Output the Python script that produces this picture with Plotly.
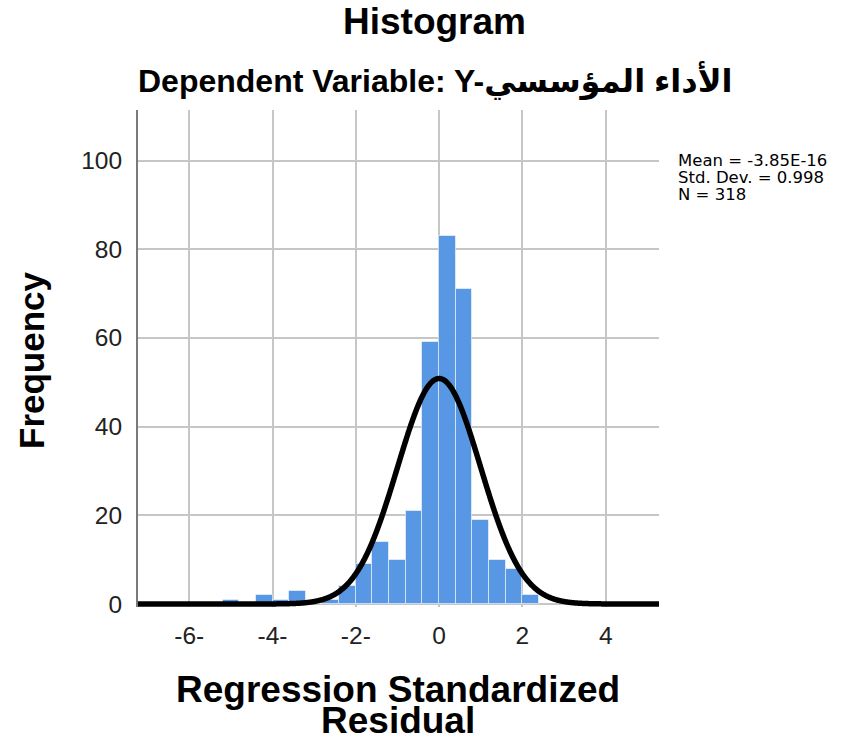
import numpy as np
import plotly.graph_objects as go

# ---- data ----
bin_centers = [-5.0, -4.6, -4.2, -3.8, -3.4, -3.0, -2.6, -2.2, -1.8, -1.4, -1.0,
               -0.6, -0.2, 0.2, 0.6, 1.0, 1.4, 1.8, 2.2]
counts = [1, 0, 2, 1, 3, 0, 1, 4, 9, 14, 10, 21, 59, 83, 71, 19, 10, 8, 2]
bin_width = 0.4

stat_mean = -3.85e-16
stat_sd = 0.998
stat_n = 318

x_tickvals = [-6, -4, -2, 0, 2, 4]
x_ticktext = ["-6-", "-4-", "-2-", "0", "2", "4"]
y_tickvals = [0, 20, 40, 60, 80, 100]

title_text = "Histogram"
subtitle_text = "Dependent Variable: Y-الأداء المؤسسي"
x_title_lines = ["Regression Standardized", "Residual"]
y_title_text = "Frequency"
stats_lines = ["Mean = -3.85E-16", "Std. Dev. = 0.998", "N = 318"]

# ---- layout geometry ----
W, H = 854, 742
L, R, T, B = 138, 195, 110, 135
x_range = [-7.23, 5.28]
y_range = [-0.68, 111.4]


def px(xp):
    return (xp - L) / (W - L - R)


def py(yp):
    return (H - B - yp) / (H - T - B)


FONT = "Liberation Sans, Arial, DejaVu Sans, sans-serif"
STAT_FONT = "DejaVu Sans, Liberation Sans, sans-serif"

# normal curve from the reported statistics
xc = np.linspace(x_range[0], x_range[1], 800)
scale = stat_n * bin_width / (stat_sd * np.sqrt(2 * np.pi))
yc = scale * np.exp(-0.5 * ((xc - stat_mean) / stat_sd) ** 2)

fig = go.Figure()
fig.add_trace(go.Bar(
    x=bin_centers, y=counts, width=bin_width,
    marker=dict(color="#5797e4", line=dict(color="rgba(255,255,255,0.55)", width=1)),
    showlegend=False, hoverinfo="skip",
))
fig.add_trace(go.Scatter(
    x=xc, y=yc, mode="lines",
    line=dict(color="black", width=5.5, shape="spline", smoothing=0.6),
    showlegend=False, hoverinfo="skip",
))

annotations = [
    dict(text=f"<b>{title_text}</b>", x=px(434), y=py(22), xref="paper", yref="paper",
         xanchor="center", yanchor="middle", showarrow=False,
         font=dict(family=FONT, size=37, color="black")),
    dict(text=f"<b>{subtitle_text}</b>", x=px(435), y=py(80), xref="paper", yref="paper",
         xanchor="center", yanchor="middle", showarrow=False,
         font=dict(family=FONT, size=32, color="black")),
    dict(text=f"<b>{x_title_lines[0]}</b>", x=px(398), y=py(689), xref="paper", yref="paper",
         xanchor="center", yanchor="middle", showarrow=False,
         font=dict(family=FONT, size=37, color="black")),
    dict(text=f"<b>{x_title_lines[1]}</b>", x=px(398), y=py(720), xref="paper", yref="paper",
         xanchor="center", yanchor="middle", showarrow=False,
         font=dict(family=FONT, size=37, color="black")),
    dict(text=f"<b>{y_title_text}</b>", x=px(31), y=py(360), xref="paper", yref="paper",
         xanchor="center", yanchor="middle", textangle=-90, showarrow=False,
         font=dict(family=FONT, size=35, color="black")),
]
for line, yy in zip(stats_lines, [160, 177, 194]):
    annotations.append(dict(text=line, x=px(676), y=py(yy), xref="paper", yref="paper",
                            xanchor="left", yanchor="middle", showarrow=False,
                            font=dict(family=STAT_FONT, size=16.5, color="black")))

fig.update_layout(
    width=W, height=H,
    margin=dict(l=L, r=R, t=T, b=B, pad=0),
    paper_bgcolor="white", plot_bgcolor="white",
    bargap=0, showlegend=False,
    annotations=annotations,
    xaxis=dict(
        range=x_range, tickvals=x_tickvals, ticktext=x_ticktext,
        showgrid=True, gridcolor="#c6c6c6", gridwidth=1.6,
        zeroline=False, showline=False, ticks="",
        ticklabelstandoff=11,
        tickfont=dict(family=FONT, size=24.5, color="#222222"),
    ),
    yaxis=dict(
        range=y_range, tickvals=y_tickvals,
        showgrid=True, gridcolor="#c6c6c6", gridwidth=1.6,
        zeroline=False, showline=True, linecolor="#7a7a7a", linewidth=2,
        ticks="", ticklabelstandoff=9,
        tickfont=dict(family=FONT, size=24.5, color="#222222"),
    ),
)

fig.write_html("out.html", config={"displayModeBar": False},
               post_script="document.body.style.margin='0';")
